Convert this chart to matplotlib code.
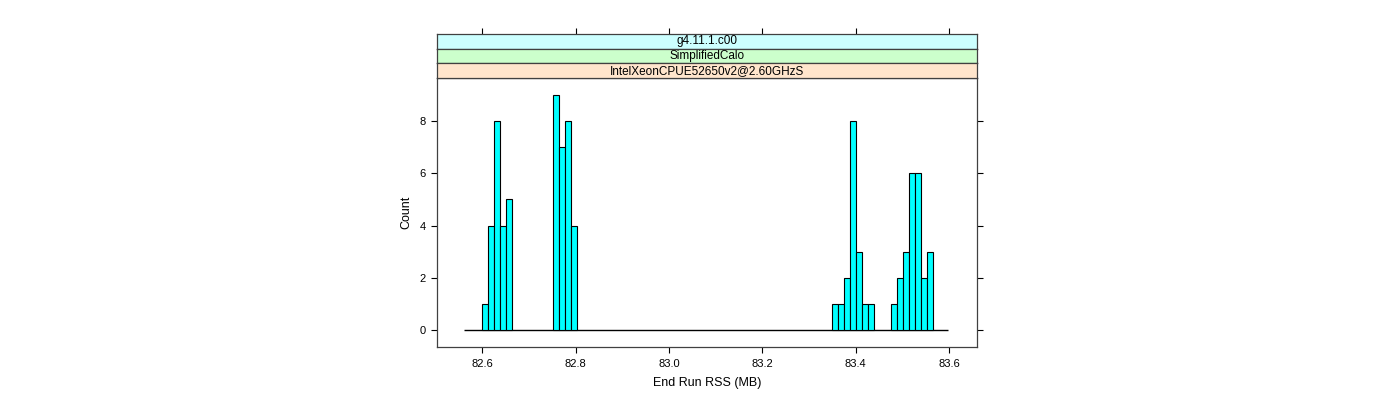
import numpy as np
import matplotlib
matplotlib.use("Agg")
import matplotlib.pyplot as plt

plt.rcParams['font.family'] = ['Liberation Sans', 'DejaVu Sans']

# Data
bin_start = 82.6
bin_width = 0.012703
counts = [1, 4, 8, 4, 5, 0, 0, 0, 0, 0, 0, 0,
          9, 7, 8, 4] + [0] * 43 + [1, 1, 2, 8, 3, 1, 1, 0, 0, 0] + [1, 2, 3, 6, 6, 2, 3]
strip_labels = ["g4.11.1.c00", "SimplifiedCalo", "IntelXeonCPUE52650v2@2.60GHzS"]
strip_colors = ["#ccffff", "#ccffcc", "#ffe5cc"]
x_ticks = [82.6, 82.8, 83.0, 83.2, 83.4, 83.6]
y_ticks = [0, 2, 4, 6, 8]
xlim = (82.503, 83.660)
ylim = (-0.63, 9.63)
baseline = (82.561, 83.598)

W, H = 1400, 400
fig = plt.figure(figsize=(W / 100, H / 100), dpi=100)

L, R, T, B = 437, 977, 78, 347
ax = fig.add_axes([L / W, 1 - B / H, (R - L) / W, (B - T) / H])
counts = np.array(counts)
lefts = bin_start + bin_width * np.arange(len(counts))
nz = counts > 0
ax.hlines(0, baseline[0], baseline[1], color='black', lw=1.0, zorder=1)
ax.bar(lefts[nz], counts[nz], width=bin_width, align='edge',
       color='#00ffff', edgecolor='black', linewidth=0.8, zorder=2)
ax.set_xlim(*xlim)
ax.set_ylim(*ylim)
ax.set_xticks(x_ticks)
ax.set_xticklabels([f"{v:.1f}" for v in x_ticks])
ax.set_yticks(y_ticks)
ax.tick_params(axis='both', direction='out', length=4.3, width=0.8, labelsize=8,
               colors='black', pad=4)
ax.tick_params(axis='y', right=True, labelright=False)
for s in ax.spines.values():
    s.set_linewidth(0.9)
    s.set_color('#404040')
ax.set_xlabel("End Run RSS (MB)", fontsize=9, labelpad=6)
ax.set_ylabel("Count", fontsize=9, labelpad=5)

# Strips
strip_h = 14.7
for i, (lab, col) in enumerate(zip(strip_labels, strip_colors)):
    top = 34 + i * strip_h
    sax = fig.add_axes([L / W, 1 - (top + strip_h) / H, (R - L) / W, strip_h / H])
    sax.set_facecolor(col)
    sax.set_xlim(*xlim)
    sax.set_ylim(0, 1)
    sax.set_yticks([])
    if i == 0:
        sax.set_xticks(x_ticks)
        sax.tick_params(axis='x', top=True, bottom=False, labeltop=False,
                        labelbottom=False, direction='out', length=4.3, width=0.8)
    else:
        sax.set_xticks([])
    for s in sax.spines.values():
        s.set_linewidth(0.9)
        s.set_color('#404040')
    sax.text(0.5, 0.5, lab, transform=sax.transAxes, ha='center', va='center',
             fontsize=8.5)

fig.savefig("out.png", dpi=100)
